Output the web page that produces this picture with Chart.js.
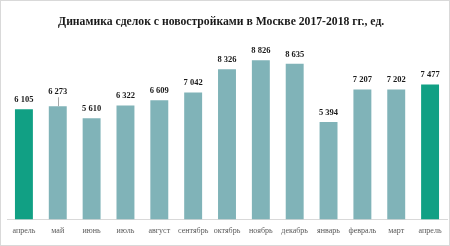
<!DOCTYPE html>
<html>
<head>
<meta charset="utf-8">
<script src="https://cdn.jsdelivr.net/npm/chart.js@4/dist/chart.umd.min.js"></script>
<style>
  html, body { margin: 0; padding: 0; background: #fff; }
  #wrap { width: 450px; height: 246px; box-sizing: border-box; border: 1px solid #d9d9d9; }
  canvas { display: block; }
</style>
</head>
<body>
<div id="wrap"><canvas id="chart" width="448" height="244"></canvas></div>
<script>
  var months = ['апрель', 'май', 'июнь', 'июль', 'август', 'сентябрь', 'октябрь', 'ноябрь', 'декабрь', 'январь', 'февраль', 'март', 'апрель'];
  var deals = [6105, 6273, 5610, 6322, 6609, 7042, 8326, 8826, 8635, 5394, 7207, 7202, 7477];
  var highlighted = [0, 12];

  var green = '#11a084';
  var grey = '#80b3b8';

  var colors = deals.map(function(v, i) {
    return highlighted.indexOf(i) >= 0 ? green : grey;
  });

  function fmt(v) {
    return String(v).replace(/\B(?=(\d{3})+(?!\d))/g, ' ');
  }

  // value labels above the bars (the "май" one sits higher, with a leader line)
  var barLabels = {
    id: 'barLabels',
    afterDatasetsDraw: function(chart) {
      var ctx = chart.ctx;
      var meta = chart.getDatasetMeta(0);
      ctx.save();
      ctx.font = 'bold 8.5px "Liberation Serif", serif';
      ctx.fillStyle = '#1a1a1a';
      ctx.textAlign = 'center';
      ctx.textBaseline = 'bottom';
      meta.data.forEach(function(bar, i) {
        var lift = i === 1 ? 10 : 5;
        ctx.fillText(fmt(deals[i]), bar.x, bar.y - lift);
        if (i === 1) {
          ctx.strokeStyle = '#a6a6a6';
          ctx.lineWidth = 1;
          ctx.beginPath();
          ctx.moveTo(Math.round(bar.x) + 0.5, bar.y - 9);
          ctx.lineTo(Math.round(bar.x) + 0.5, bar.y);
          ctx.stroke();
        }
      });
      ctx.restore();
    }
  };

  new Chart(document.getElementById('chart'), {
    type: 'bar',
    data: {
      labels: months,
      datasets: [{
        data: deals,
        backgroundColor: colors,
        categoryPercentage: 1,
        barPercentage: 0.53
      }]
    },
    options: {
      responsive: false,
      animation: false,
      layout: { padding: { left: 6, right: 2, top: 0, bottom: 2 } },
      plugins: {
        legend: { display: false },
        tooltip: { enabled: false },
        title: {
          display: true,
          // trailing nbsp nudge the centred title a little to the left, as in the original
          text: 'Динамика сделок с новостройками в Москве 2017-2018 гг., ед.\u00a0\u00a0\u00a0\u00a0',
          color: '#1a1a1a',
          font: { family: '"Liberation Serif", serif', size: 11.7, weight: 'bold' },
          padding: { top: 14, bottom: 10 }
        }
      },
      scales: {
        x: {
          grid: { display: false, drawTicks: false },
          border: { display: true, color: '#d9d9d9', width: 1 },
          ticks: {
            color: '#595959',
            font: { family: '"Liberation Serif", serif', size: 8 },
            padding: 7,
            maxRotation: 0,
            autoSkip: false
          }
        },
        y: {
          display: false,
          min: 0,
          max: 10000
        }
      }
    },
    plugins: [barLabels]
  });
</script>
</body>
</html>
